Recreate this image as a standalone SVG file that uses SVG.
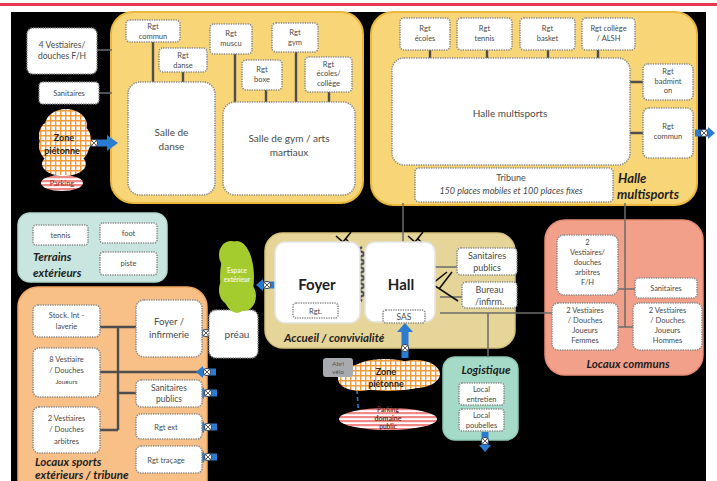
<svg xmlns="http://www.w3.org/2000/svg" width="717" height="481" viewBox="0 0 717 481">
<defs>
<style>
.bx{fill:#fff;stroke:#8a8a8a;stroke-width:1.6;stroke-dasharray:1.3 1.1}
.wb{fill:#fff;stroke:#e4e4e4;stroke-width:1.5}
.t{font-family:Lato,"Liberation Sans",sans-serif;fill:#4a4a4a;text-anchor:middle}
.s{font-size:7.5px}
.m{font-size:8.5px}
.l{font-size:10px}
.h{font-weight:bold;font-size:15px;fill:#222}
.ttl{font-family:Lato,"Liberation Sans",sans-serif;font-weight:bold;font-style:italic;fill:#1e1e1e;font-size:11.5px}
.ln{stroke:#4e4e4e;stroke-width:2.4;fill:none}
.ln2{stroke:#6c6c6c;stroke-width:1.5;fill:none}
.dr{stroke:#111;stroke-width:1.6;fill:none}
.pY{fill:#f8d677;stroke:#eab83a;stroke-width:2}
.bl{fill:#2b7bd0}
.cx{fill:#fff;stroke:#333;stroke-width:0.9}
.xx{stroke:#333;stroke-width:0.8}
</style>
<pattern id="grid" width="5" height="5" patternUnits="userSpaceOnUse"><rect width="5" height="5" fill="#fff"/><path d="M0,0.7H5M0.7,0V5" stroke="#f39a3a" stroke-width="1.4"/></pattern>
<pattern id="stripe" width="4" height="4" patternUnits="userSpaceOnUse"><rect width="4" height="4" fill="#fff"/><rect width="4" height="2.2" fill="#f08888"/></pattern>
<g id="arr">
<path class="bl" d="M-10,0 L-3,-6 L-3,-3.5 L10,-3.5 L10,3.5 L-3,3.5 L-3,6 Z"/>
<circle class="cx" cx="1" cy="0" r="3.6"/>
<path class="xx" d="M-1.2,-2.2 L3.2,2.2 M3.2,-2.2 L-1.2,2.2"/>
</g>
</defs>

<rect x="0" y="0" width="717" height="481" fill="#fff"/>
<rect x="0" y="3" width="717" height="3" fill="#e8374f"/>
<rect x="11" y="12" width="695" height="469" fill="#000"/>

<!-- panels -->
<g id="panel-gym"><rect class="pY" x="111" y="12" width="252" height="191" rx="22"/></g>
<g id="panel-halle"><rect class="pY" x="371" y="12" width="326" height="193" rx="22"/></g>
<g id="panel-terrains"><rect x="18" y="213" width="149" height="69" rx="12" fill="#c9e5df" stroke="#b2d6cd" stroke-width="1.5"/></g>
<g id="panel-locaux-ext"><rect x="18" y="287" width="189" height="215" rx="20" fill="#f8bf86" stroke="#f0a862" stroke-width="1.5"/></g>
<g id="panel-accueil"><rect x="265" y="233" width="250" height="115" rx="18" fill="#e5d598" stroke="#d6c27c" stroke-width="1.5"/></g>
<g id="panel-logistique"><rect x="443" y="357" width="75" height="83" rx="12" fill="#a5dac9" stroke="#8ccab6" stroke-width="1.5"/></g>
<g id="panel-communs"><rect x="545" y="220" width="158" height="155" rx="20" fill="#f3a08b" stroke="#e88c74" stroke-width="1.5"/></g>

<!-- connectors -->
<g id="connectors">
<path class="ln" d="M153,42V82 M183,72V82 M235,54V102 M266,90V102 M296,52V102 M329,92V102"/>
<path class="ln2" d="M97,50H112 M99,93H112"/>
<path class="ln" d="M430,50V58 M487,50V58 M548,50V58 M598,50V58 M630,82H643 M630,133H643"/>
<path class="ln" d="M487,58 l-4,3 l8,4 l-8,4 l8,4 l-8,4 l8,4 l-8,4 l8,4 l-8,4 l8,4 l-4,3" stroke-width="1.3"/>
<path class="ln2" d="M403,203V242 M625,203V327 M618,289H635 M618,327H633"/>
<path class="ln" d="M362,247 l-4,3 l8,4 l-8,4 l8,4 l-8,4 l8,4 l-8,4 l8,4 l-8,4 l8,4 l-8,4 l8,4 l-8,4 l4,3" stroke-width="1.3"/>
<path class="ln2" d="M435,267H457 M440,297H462 M440,313H552 M488,313V357" stroke-width="2"/>
<path class="ln" d="M118,327V430 M100,327H136 M100,372H205 M118,393H136 M100,430H118" stroke="#333" stroke-width="2"/>
<path class="dr" d="M336,236 L343,242 L351,232 M343,242 L341,247 M346,239 L351,245"/>
<path class="dr" d="M408,236 L415,242 L423,232 M415,242 L413,247 M418,239 L425,246"/>
<path class="dr" d="M447,272 L432,284 L458,301 M439,289 L452,272"/>
<path d="M357,390 L359,420" stroke="#2b7bd0" stroke-width="1.6" stroke-dasharray="4 3"/>
<!-- blue arrows -->
<path class="bl" d="M80,139.5 H107 V135 L118,143 L107,151 V146.5 H80 Z"/>
<circle class="cx" cx="94" cy="143" r="3.6"/>
<path class="xx" d="M91.8,140.8 L96.2,145.2 M96.2,140.8 L91.8,145.2"/>
<path class="bl" d="M401.5,358 V332 H397 L405,323 L413,332 H408.5 V358 Z"/>
<circle class="cx" cx="405" cy="348" r="3.6"/>
<path class="xx" d="M402.8,345.8 L407.2,350.2 M407.2,345.8 L402.8,350.2"/>
<use href="#arr" transform="translate(705,133) rotate(180)"/>
<use href="#arr" transform="translate(266,285)"/>
<use href="#arr" transform="translate(485,442) rotate(-90)"/>
<use href="#arr" transform="translate(205,333)"/>
<use href="#arr" transform="translate(206,372)"/>
<use href="#arr" transform="translate(207,393)"/>
<use href="#arr" transform="translate(207,427)"/>
<use href="#arr" transform="translate(207,457)"/>
</g>

<!-- gym panel nodes -->
<g id="rgt-commun"><rect class="bx" x="126" y="20" width="54" height="22" rx="4"/><text class="t s" x="153" y="29">Rgt</text><text class="t s" x="153" y="38.5">commun</text></g>
<g id="rgt-danse"><rect class="bx" x="159" y="48" width="48" height="24" rx="4"/><text class="t s" x="183" y="58">Rgt</text><text class="t s" x="183" y="67.5">danse</text></g>
<g id="rgt-muscu"><rect class="bx" x="210" y="24" width="42" height="30" rx="4"/><text class="t s" x="231" y="36">Rgt</text><text class="t s" x="231" y="45.5">muscu</text></g>
<g id="rgt-gym"><rect class="bx" x="272" y="23" width="46" height="29" rx="4"/><text class="t s" x="295" y="35">Rgt</text><text class="t s" x="295" y="44.5">gym</text></g>
<g id="rgt-boxe"><rect class="bx" x="242" y="60" width="40" height="30" rx="4"/><text class="t s" x="262" y="72">Rgt</text><text class="t s" x="262" y="81.5">boxe</text></g>
<g id="rgt-ecoles-college"><rect class="bx" x="305" y="57" width="47" height="35" rx="4"/><text class="t s" x="328.5" y="66.5">Rgt</text><text class="t s" x="328.5" y="76">écoles/</text><text class="t s" x="328.5" y="85.5">collège</text></g>
<g id="salle-danse"><rect class="bx" x="128" y="82" width="87" height="113" rx="12"/><text class="t l" x="171.5" y="136">Salle de</text><text class="t l" x="171.5" y="150">danse</text></g>
<g id="salle-gym"><rect class="bx" x="223" y="102" width="132" height="93" rx="12"/><text class="t l" x="289" y="142">Salle de gym / arts</text><text class="t l" x="289" y="156">martiaux</text></g>

<!-- left outside -->
<g id="vestiaires-fh"><rect class="bx" x="27" y="28" width="70" height="46" rx="6"/><text class="t m" x="62" y="48">4 Vestiaires/</text><text class="t m" x="62" y="59">douches F/H</text></g>
<g id="sanitaires-left"><rect class="bx" x="39" y="82" width="60" height="22" rx="4"/><text class="t s" x="69" y="96">Sanitaires</text></g>
<g id="zone-pietonne-left">
<g fill="url(#grid)"><ellipse cx="66" cy="125" rx="21" ry="16"/><ellipse cx="64" cy="146" rx="25" ry="20"/><ellipse cx="64" cy="164" rx="22" ry="12"/><ellipse cx="49" cy="136" rx="10" ry="14"/><ellipse cx="80" cy="140" rx="11" ry="15"/></g>
<text class="t" x="64" y="141" style="font-size:9px;font-weight:bold;fill:#2a1f10">Zone</text>
<text class="t" x="62" y="154" style="font-size:9px;font-weight:bold;fill:#2a1f10">piétonne</text>
</g>
<g id="parking-left"><ellipse cx="62" cy="183" rx="21" ry="8" fill="url(#stripe)"/><text class="t" x="62" y="186" style="font-size:7.5px;fill:#8a2a35">Parking</text></g>

<!-- halle panel nodes -->
<g id="rgt-ecoles"><rect class="bx" x="400" y="18" width="50" height="32" rx="4"/><text class="t s" x="425" y="31">Rgt</text><text class="t s" x="425" y="41">écoles</text></g>
<g id="rgt-tennis"><rect class="bx" x="457" y="18" width="55" height="32" rx="4"/><text class="t s" x="484.5" y="31">Rgt</text><text class="t s" x="484.5" y="41">tennis</text></g>
<g id="rgt-basket"><rect class="bx" x="520" y="18" width="55" height="32" rx="4"/><text class="t s" x="547.5" y="31">Rgt</text><text class="t s" x="547.5" y="41">basket</text></g>
<g id="rgt-college-alsh"><rect class="bx" x="582" y="18" width="53" height="32" rx="4"/><text class="t s" x="608.5" y="31">Rgt collège</text><text class="t s" x="608.5" y="41">/ ALSH</text></g>
<g id="halle-multisports"><rect class="bx" x="392" y="58" width="238" height="107" rx="12"/><text class="t l" x="510" y="117">Halle multisports</text></g>
<g id="rgt-badminton"><rect class="bx" x="643" y="64" width="50" height="36" rx="5"/><text class="t s" x="668" y="74">Rgt</text><text class="t s" x="668" y="83.5">badmint</text><text class="t s" x="668" y="93">on</text></g>
<g id="rgt-commun-halle"><rect class="bx" x="643" y="108" width="50" height="50" rx="6"/><text class="t s" x="668" y="129">Rgt</text><text class="t s" x="668" y="139">commun</text></g>
<g id="tribune"><rect class="bx" x="415" y="168" width="198" height="34" rx="4"/><text class="t" x="511" y="181" style="font-size:9px">Tribune</text><text class="t" x="511" y="194" style="font-size:9px;font-style:italic">150 places mobiles et 100 places fixes</text></g>
<text class="ttl" x="618" y="183" style="font-size:13px">Halle</text>
<text class="ttl" x="617" y="199" style="font-size:13px">multisports</text>

<!-- terrains -->
<g id="tennis"><rect class="bx" x="33" y="225" width="55" height="20" rx="3"/><text class="t s" x="60.5" y="238">tennis</text></g>
<g id="foot"><rect class="bx" x="100" y="223" width="57" height="20" rx="3"/><text class="t s" x="128.5" y="236">foot</text></g>
<g id="piste"><rect class="bx" x="100" y="252" width="57" height="23" rx="3"/><text class="t s" x="128.5" y="266">piste</text></g>
<text class="ttl" x="33" y="261">Terrains</text>
<text class="ttl" x="33" y="277">extérieurs</text>

<!-- locaux sports ext -->
<g id="stock-laverie"><rect class="bx" x="33" y="305" width="67" height="32" rx="5"/><text class="t s" x="66.5" y="318">Stock. Int -</text><text class="t s" x="66.5" y="329">laverie</text></g>
<g id="vestiaires-joueurs"><rect class="bx" x="33" y="348" width="67" height="49" rx="6"/><text class="t s" x="66.5" y="362">8 Vestiaire</text><text class="t s" x="66.5" y="373">/ Douches</text><text class="t" x="66.5" y="384" style="font-size:6.5px">Joueurs</text></g>
<g id="vestiaires-arbitres"><rect class="bx" x="33" y="407" width="67" height="46" rx="6"/><text class="t s" x="66.5" y="421">2 Vestiaires</text><text class="t s" x="66.5" y="432">/ Douches</text><text class="t s" x="66.5" y="444">arbitres</text></g>
<g id="foyer-infirmerie"><rect class="bx" x="136" y="300" width="66" height="57" rx="8"/><text class="t" x="169" y="325" style="font-size:9.5px">Foyer /</text><text class="t" x="169" y="338" style="font-size:9.5px">infirmerie</text></g>
<g id="sanitaires-publics-ext"><rect class="bx" x="136" y="380" width="66" height="27" rx="5"/><text class="t m" x="169" y="391">Sanitaires</text><text class="t m" x="169" y="402">publics</text></g>
<g id="rgt-ext"><rect class="bx" x="136" y="414" width="66" height="25" rx="5"/><text class="t s" x="166" y="430">Rgt ext</text></g>
<g id="rgt-tracage"><rect class="bx" x="136" y="446" width="66" height="27" rx="5"/><text class="t s" x="166" y="463">Rgt traçage</text></g>
<g id="preau"><rect class="bx" x="209" y="310" width="49" height="48" rx="7"/><text class="t l" x="237" y="338">préau</text></g>
<text class="ttl" x="35" y="466">Locaux sports</text>
<text class="ttl" x="35" y="479">extérieurs / tribune</text>

<!-- espace exterieur -->
<g id="espace-exterieur">
<g fill="#a5cc2e"><ellipse cx="237" cy="277" rx="17" ry="36"/><ellipse cx="231" cy="255" rx="12" ry="14"/><ellipse cx="244" cy="296" rx="12" ry="15"/><ellipse cx="229" cy="290" rx="10" ry="14"/></g>
<text class="t" x="237" y="273" style="font-size:6.5px;font-weight:bold;fill:#f2f5e0">Espace</text>
<text class="t" x="237" y="282" style="font-size:6.5px;font-weight:bold;fill:#f2f5e0">extérieur</text>
</g>

<!-- accueil -->
<g id="foyer"><rect class="wb" x="275" y="242" width="85" height="81" rx="10"/><text class="t h" x="317" y="290">Foyer</text></g>
<g id="rgt-foyer"><rect class="bx" x="293" y="303" width="45" height="15" rx="3"/><text class="t s" x="315.5" y="314">Rgt.</text></g>
<g id="hall"><rect class="wb" x="365" y="242" width="70" height="80" rx="10"/><text class="t h" x="401" y="290">Hall</text></g>
<g id="sas"><rect class="bx" x="383" y="310" width="42" height="13" rx="3"/><text class="t m" x="404" y="320">SAS</text></g>
<g id="sanitaires-publics-accueil"><rect class="bx" x="457" y="248" width="60" height="27" rx="4"/><text class="t" x="487" y="259" style="font-size:9px">Sanitaires</text><text class="t" x="487" y="271" style="font-size:9px">publics</text></g>
<g id="bureau-infirm"><rect class="bx" x="462" y="282" width="55" height="26" rx="4"/><text class="t" x="489.5" y="293" style="font-size:9px">Bureau</text><text class="t" x="489.5" y="305" style="font-size:9px">/infirm.</text></g>
<text class="ttl" x="284" y="342">Accueil / convivialité</text>

<!-- centre bottom -->
<g id="zone-pietonne-centre">
<g fill="url(#grid)"><ellipse cx="388" cy="376" rx="50" ry="15"/><ellipse cx="360" cy="379" rx="22" ry="12"/><ellipse cx="415" cy="374" rx="25" ry="14"/><ellipse cx="385" cy="368" rx="30" ry="9"/></g>
<text class="t" x="386" y="375" style="font-size:9px;font-weight:bold;fill:#2a1f10">Zone</text>
<text class="t" x="386" y="387" style="font-size:9px;font-weight:bold;fill:#2a1f10">piétonne</text>
</g>
<g id="abri-velo"><rect x="323" y="358" width="30" height="19" rx="3" fill="#a7abaf"/><text class="t" x="338" y="366" style="font-size:6.5px;fill:#555">Abri</text><text class="t" x="338" y="374" style="font-size:6.5px;fill:#555">vélo</text></g>
<g id="domaine-public">
<ellipse cx="388" cy="419" rx="49" ry="11" fill="url(#stripe)"/>
<text class="t" x="388" y="412" style="font-size:6.5px;font-weight:bold;fill:#6a2a2a">Parking</text>
<text class="t" x="388" y="421" style="font-size:7px;font-weight:bold;fill:#5a2a2a">domaine</text>
<text class="t" x="388" y="429" style="font-size:6.5px;font-weight:bold;fill:#6a2a2a">public</text>
</g>

<!-- logistique -->
<text class="ttl" x="486" y="374" text-anchor="middle">Logistique</text>
<g id="local-entretien"><rect class="bx" x="459" y="383" width="45" height="22" rx="3"/><text class="t s" x="481.5" y="392">Local</text><text class="t s" x="481.5" y="402">entretien</text></g>
<g id="local-poubelles"><rect class="bx" x="459" y="409" width="45" height="22" rx="3"/><text class="t s" x="481.5" y="418">Local</text><text class="t s" x="481.5" y="428">poubelles</text></g>

<!-- locaux communs -->
<g id="vestiaires-arbitres-fh"><rect class="bx" x="557" y="235" width="61" height="60" rx="7"/><text class="t s" x="587.5" y="245">2</text><text class="t s" x="587.5" y="255">Vestiaires/</text><text class="t s" x="587.5" y="265">douches</text><text class="t s" x="587.5" y="275">arbitres</text><text class="t s" x="587.5" y="285">F/H</text></g>
<g id="sanitaires-communs"><rect class="bx" x="635" y="278" width="62" height="20" rx="4"/><text class="t s" x="666" y="291">Sanitaires</text></g>
<g id="vestiaires-femmes"><rect class="bx" x="552" y="303" width="66" height="47" rx="6"/><text class="t s" x="585" y="313">2 Vestiaires</text><text class="t s" x="585" y="323">/ Douches</text><text class="t s" x="585" y="333">Joueurs</text><text class="t s" x="585" y="343">Femmes</text></g>
<g id="vestiaires-hommes"><rect class="bx" x="633" y="303" width="69" height="47" rx="6"/><text class="t s" x="667.5" y="313">2 Vestiaires</text><text class="t s" x="667.5" y="323">/ Douches</text><text class="t s" x="667.5" y="333">Joueurs</text><text class="t s" x="667.5" y="343">Hommes</text></g>
<text class="ttl" x="628" y="368" text-anchor="middle">Locaux communs</text>
</svg>
